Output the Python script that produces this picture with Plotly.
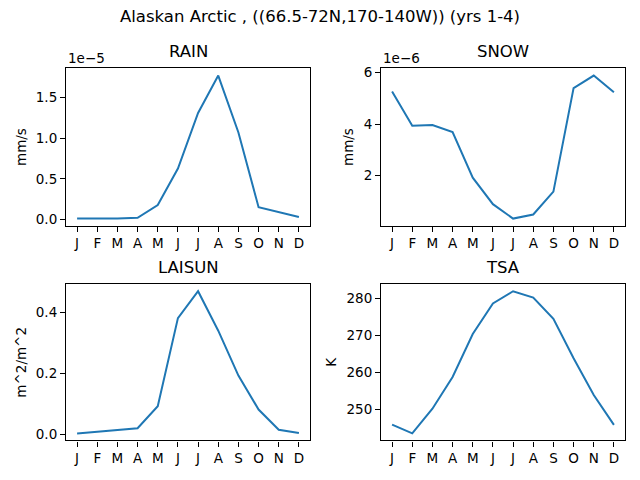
import plotly.graph_objects as go

MONTHS = ["J", "F", "M", "A", "M", "J", "J", "A", "S", "O", "N", "D"]
MONTH_IDX = list(range(12))

# monthly means, Alaskan Arctic, yrs 1-4
RAIN = [0.01e-5, 0.01e-5, 0.01e-5, 0.02e-5, 0.177e-5, 0.626e-5,
        1.31e-5, 1.77e-5, 1.07e-5, 0.15e-5, 0.09e-5, 0.03e-5]
SNOW = [5.27e-6, 3.94e-6, 3.97e-6, 3.69e-6, 1.92e-6, 0.89e-6,
        0.33e-6, 0.49e-6, 1.38e-6, 5.40e-6, 5.89e-6, 5.24e-6]
LAISUN = [0.003, 0.008, 0.013, 0.020, 0.092, 0.380,
          0.468, 0.339, 0.192, 0.081, 0.015, 0.004]
TSA = [245.8, 243.4, 250.1, 258.7, 270.4, 278.7,
       282.0, 280.3, 274.5, 263.8, 253.8, 245.7]

RAIN_TICKS = [0.0, 0.5e-5, 1.0e-5, 1.5e-5]
RAIN_TICKTEXT = ["0.0", "0.5", "1.0", "1.5"]
SNOW_TICKS = [2e-6, 4e-6, 6e-6]
SNOW_TICKTEXT = ["2", "4", "6"]
LAI_TICKS = [0.0, 0.2, 0.4]
LAI_TICKTEXT = ["0.0", "0.2", "0.4"]
TSA_TICKS = [250, 260, 270, 280]
TSA_TICKTEXT = ["250", "260", "270", "280"]

LINE_COLOR = "#1f77b4"
FONT = "DejaVu Sans"
TICK_SIZE = 13.5
TITLE_SIZE = 16.5

W, H = 640, 480
SHIFT = 8  # page body margin offsets the plot div


def px(x):
    return (x - SHIFT) / W


def py(y):
    return 1 - (y - SHIFT) / H


# (name, data, ylabel, tickvals, ticktext, offset text, left, right, top, bottom) in page px
PANELS = [
    ("RAIN", RAIN, "mm/s", RAIN_TICKS, RAIN_TICKTEXT, "1e\u22125", 66, 310, 65, 224),
    ("SNOW", SNOW, "mm/s", SNOW_TICKS, SNOW_TICKTEXT, "1e\u22126", 381, 625, 65, 224),
    ("LAISUN", LAISUN, "m^2/m^2", LAI_TICKS, LAI_TICKTEXT, None, 66, 310, 283, 441),
    ("TSA", TSA, "K", TSA_TICKS, TSA_TICKTEXT, None, 381, 625, 283, 441),
]


def padded_range(vals, frac=0.05):
    lo, hi = min(vals), max(vals)
    pad = (hi - lo) * frac
    return [lo - pad, hi + pad]


fig = go.Figure()
annotations = []

for i, (name, data, ylabel, tvals, ttext, offset, left, right, top, bottom) in enumerate(PANELS):
    n = "" if i == 0 else str(i + 1)
    xdom = [px(left), px(right)]
    ydom = [py(bottom), py(top)]
    fig.add_trace(
        go.Scatter(
            x=MONTH_IDX, y=data, mode="lines",
            line=dict(color=LINE_COLOR, width=2),
            xaxis="x" + n, yaxis="y" + n, showlegend=False,
        )
    )
    axis_common = dict(
        showline=True, linecolor="black", linewidth=1.1, mirror=True,
        ticks="outside", ticklen=5, tickwidth=1.1, tickcolor="black",
        showgrid=False, zeroline=False,
        tickfont=dict(family=FONT, size=TICK_SIZE, color="black"),
    )
    fig.layout["xaxis" + n] = dict(
        domain=xdom, anchor="y" + n, range=[-0.55, 11.55],
        tickvals=MONTH_IDX, ticktext=MONTHS, **axis_common,
    )
    fig.layout["yaxis" + n] = dict(
        domain=ydom, anchor="x" + n, range=padded_range(data),
        tickvals=tvals, ticktext=ttext,
        title=dict(text=ylabel, standoff=6,
                   font=dict(family=FONT, size=TICK_SIZE, color="black")),
        **axis_common,
    )
    annotations.append(dict(
        text=name, xref="paper", yref="paper",
        x=(xdom[0] + xdom[1]) / 2, y=py(top - 17),
        xanchor="center", yanchor="middle", showarrow=False,
        font=dict(family=FONT, size=TITLE_SIZE, color="black"),
    ))
    if offset:
        annotations.append(dict(
            text=offset, xref="paper", yref="paper",
            x=xdom[0], y=py(top - 11),
            xanchor="left", yanchor="middle", showarrow=False,
            font=dict(family=FONT, size=TICK_SIZE, color="black"),
        ))

annotations.append(dict(
    text="Alaskan Arctic , ((66.5-72N,170-140W)) (yrs 1-4)",
    xref="paper", yref="paper", x=px(320), y=py(13),
    xanchor="center", yanchor="middle", showarrow=False,
    font=dict(family=FONT, size=TITLE_SIZE, color="black"),
))

fig.update_layout(
    width=W, height=H,
    margin=dict(l=0, r=0, t=0, b=0),
    paper_bgcolor="white", plot_bgcolor="white",
    annotations=annotations,
    font=dict(family=FONT, color="black"),
)

fig.write_html("out.html")
